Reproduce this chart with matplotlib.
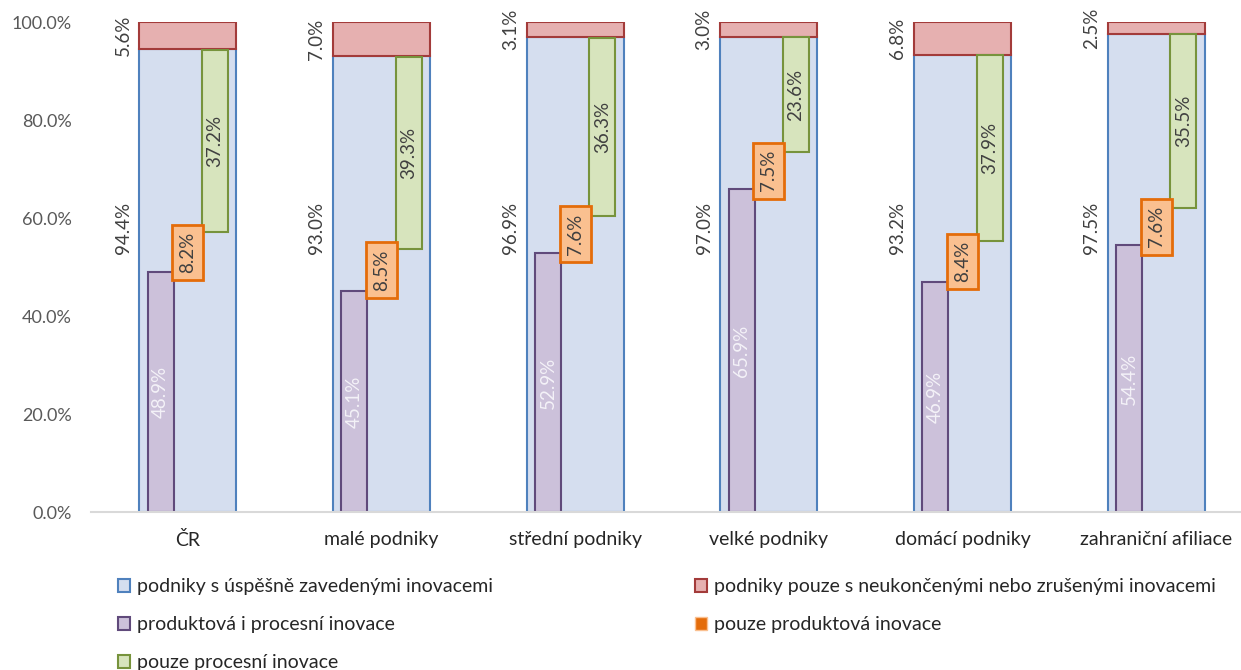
import numpy as np
import matplotlib.pyplot as plt
from matplotlib.patches import Patch

plt.rcParams['font.family'] = ['Lato', 'DejaVu Sans']

# Podíly podniků s inovacemi (v %)
categories = ["ČR", "malé podniky", "střední podniky", "velké podniky",
              "domácí podniky", "zahraniční afiliace"]
uspesne = [94.4, 93.0, 96.9, 97.0, 93.2, 97.5]
neukoncene = [5.6, 7.0, 3.1, 3.0, 6.8, 2.5]
prod_proc = [48.9, 45.1, 52.9, 65.9, 46.9, 54.4]
jen_prod = [8.2, 8.5, 7.6, 7.5, 8.4, 7.6]
jen_proc = [37.2, 39.3, 36.3, 23.6, 37.9, 35.5]

series_names = [
    "podniky s úspěšně zavedenými inovacemi",
    "podniky pouze s neukončenými nebo zrušenými inovacemi",
    "produktová i procesní inovace",
    "pouze produktová inovace",
    "pouze procesní inovace",
]

BLUE_F, BLUE_E = '#D5DEEF', '#4F81BD'
RED_F, RED_E = '#E6B0B0', '#A33B3A'
PUR_F, PUR_E = '#CCC1DA', '#604A7B'
ORA_F, ORA_E = '#FAC090', '#E46C0A'
GRE_F, GRE_E = '#D7E4BD', '#77933C'
TXT = '#404040'

fig = plt.figure(figsize=(12.41, 6.70), dpi=100)
ax = fig.add_axes([0.0733, 0.2358, 0.9364, 0.7313])

x = np.arange(len(categories))
base = np.array(uspesne)
pp = np.array(prod_proc)
jp = np.array(jen_prod)

wide, narrow, off = 0.5, 0.135, 0.14

ax.bar(x, uspesne, wide, color=BLUE_F, edgecolor=BLUE_E, lw=1.5, zorder=1)
ax.bar(x, neukoncene, wide, bottom=base, color=RED_F, edgecolor=RED_E, lw=1.5, zorder=1)
ax.bar(x - off, prod_proc, narrow, color=PUR_F, edgecolor=PUR_E, lw=1.5, zorder=2)
ax.bar(x, jen_prod, narrow, bottom=pp, color=ORA_F, edgecolor=ORA_F, lw=0, zorder=2)
ax.bar(x + off, jen_proc, narrow, bottom=pp + jp, color=GRE_F, edgecolor=GRE_E, lw=1.5, zorder=2)

fs_lab = 13.5
fs = 14
for i in range(len(categories)):
    left = x[i] - wide / 2 - 0.04
    ax.text(left, 58, f"{uspesne[i]:.1f}%", rotation=90, ha='right', va='center',
            fontsize=fs_lab, color=TXT)
    ax.text(left, uspesne[i] + neukoncene[i] / 2, f"{neukoncene[i]:.1f}%", rotation=90,
            ha='right', va='center', fontsize=fs_lab, color=TXT)
    ax.text(x[i] - off, prod_proc[i] / 2, f"{prod_proc[i]:.1f}%", rotation=90,
            ha='center', va='center', fontsize=fs_lab, color='#F4F2F8', zorder=3)
    ax.text(x[i], prod_proc[i] + jen_prod[i] / 2, f"{jen_prod[i]:.1f}%", rotation=90,
            ha='center', va='center', fontsize=fs_lab, color=TXT, zorder=4,
            bbox=dict(boxstyle='square,pad=0.38', fc=ORA_F, ec=ORA_E, lw=2))
    ax.text(x[i] + off, prod_proc[i] + jen_prod[i] + jen_proc[i] / 2, f"{jen_proc[i]:.1f}%",
            rotation=90, ha='center', va='center', fontsize=fs_lab, color=TXT, zorder=3)

ax.set_xlim(-0.5, len(categories) - 0.5)
ax.set_ylim(0, 100)
ax.set_yticks(range(0, 101, 20))
ax.set_yticklabels([f"{v:.1f}%" for v in range(0, 101, 20)])
ax.set_xticks(x)
ax.set_xticklabels(categories)
ax.tick_params(axis='y', length=0, pad=14, labelsize=13, labelcolor='#595959')
ax.tick_params(axis='x', length=0, pad=14, labelsize=fs, labelcolor='#262626')
for s in ['top', 'right', 'left']:
    ax.spines[s].set_visible(False)
ax.spines['bottom'].set_color('#D9D9D9')
ax.spines['bottom'].set_linewidth(1.5)
ax.spines['bottom'].set_zorder(5)

h_blue = Patch(fc=BLUE_F, ec=BLUE_E, lw=1.5)
h_red = Patch(fc=RED_F, ec=RED_E, lw=1.5)
h_pur = Patch(fc=PUR_F, ec=PUR_E, lw=1.5)
h_ora = Patch(fc=ORA_E, ec=ORA_F, lw=1.0)
h_gre = Patch(fc=GRE_F, ec=GRE_E, lw=1.5)

leg_kw = dict(frameon=False, loc='upper left', fontsize=fs, borderpad=0, borderaxespad=0,
              handlelength=0.6, handleheight=0.6, handletextpad=0.4, labelspacing=1.08,
              labelcolor='#262626')
leg1 = fig.legend([h_blue, h_pur, h_gre], [series_names[0], series_names[2], series_names[4]],
                  bbox_to_anchor=(0.095, 0.137), **leg_kw)
leg2 = fig.legend([h_red, h_ora], [series_names[1], series_names[3]],
                  bbox_to_anchor=(0.56, 0.137), **leg_kw)

fig.savefig('out.png', dpi=100)
